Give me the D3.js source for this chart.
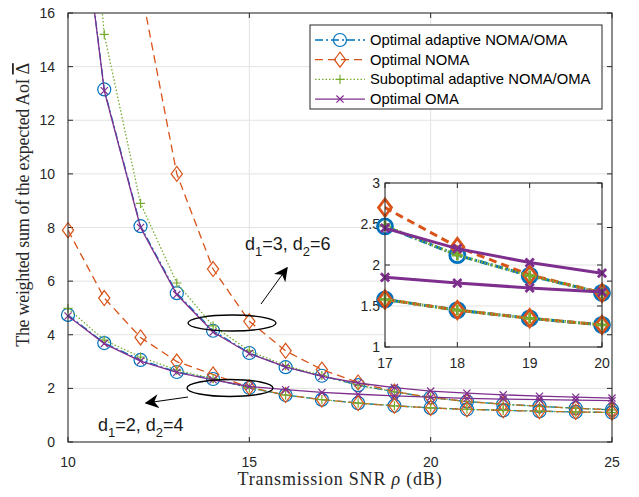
<!DOCTYPE html>
<html>
<head>
<meta charset="utf-8">
<script src="https://cdn.jsdelivr.net/npm/d3@7"></script>
<style>
  body { margin: 0; background: #fff; }
  svg { display: block; }
</style>
</head>
<body>
<div id="chart"></div>
<script>
// x values: transmission SNR (dB)
var snr = [10, 11, 12, 13, 14, 15, 16, 17, 18, 19, 20, 21, 22, 23, 24, 25];

// d1=3, d2=6 group
var adaptiveHigh = [24, 13.15, 8.05, 5.55, 4.15, 3.32, 2.79, 2.47, 2.12, 1.87, 1.66, 1.51, 1.41, 1.33, 1.26, 1.2];
var nomaHigh     = [55, 30, 17, 10.0, 6.45, 4.5, 3.4, 2.7, 2.22, 1.88, 1.66, 1.51, 1.41, 1.33, 1.26, 1.2];
var subHigh      = [30, 15.2, 8.9, 5.93, 4.33, 3.4, 2.85, 2.48, 2.12, 1.87, 1.66, 1.51, 1.41, 1.33, 1.26, 1.2];
var omaHigh      = [24, 13.1, 8.0, 5.5, 4.1, 3.3, 2.8, 2.45, 2.2, 2.03, 1.9, 1.82, 1.76, 1.71, 1.67, 1.64];

// d1=2, d2=4 group
var adaptiveLow = [4.74, 3.69, 3.06, 2.61, 2.35, 2.02, 1.75, 1.58, 1.45, 1.35, 1.27, 1.22, 1.18, 1.15, 1.12, 1.1];
var nomaLow     = [7.9, 5.37, 3.9, 3.0, 2.52, 2.04, 1.75, 1.58, 1.45, 1.35, 1.27, 1.22, 1.18, 1.15, 1.12, 1.1];
var subLow      = [4.98, 3.8, 3.17, 2.68, 2.36, 2.02, 1.75, 1.58, 1.45, 1.35, 1.27, 1.22, 1.18, 1.15, 1.12, 1.1];
var omaLow      = [4.7, 3.67, 3.02, 2.6, 2.32, 2.07, 1.95, 1.85, 1.78, 1.72, 1.67, 1.63, 1.6, 1.58, 1.56, 1.54];

var xTicks = [10, 15, 20, 25];
var yTicks = [0, 2, 4, 6, 8, 10, 12, 14, 16];
var insetXTicks = [17, 18, 19, 20];
var insetYTicks = [1, 1.5, 2, 2.5, 3];

var seriesInfo = [
    { name: 'Optimal adaptive NOMA/OMA', color: '#0072BD', dash: '8,3,2,3', marker: 'circle', high: adaptiveHigh, low: adaptiveLow },
    { name: 'Optimal NOMA', color: '#D95319', dash: '8,5', marker: 'diamond', high: nomaHigh, low: nomaLow },
    { name: 'Suboptimal adaptive NOMA/OMA', color: '#77AC30', dash: '1.5,2', marker: 'plus', high: subHigh, low: subLow },
    { name: 'Optimal OMA', color: '#7E2F8E', dash: null, marker: 'cross', high: omaHigh, low: omaLow }
];

var width = 639, height = 497;
var svg = d3.select('#chart').append('svg')
    .attr('width', width)
    .attr('height', height)
    .style('font-family', 'Liberation Sans, Arial, sans-serif');

// main axes box
var plotLeft = 68, plotRight = 612, plotTop = 13, plotBottom = 442;
var x = d3.scaleLinear().domain([10, 25]).range([plotLeft, plotRight]);
var y = d3.scaleLinear().domain([0, 16]).range([plotBottom, plotTop]);

var defs = svg.append('defs');
defs.append('clipPath').attr('id', 'mainClip')
    .append('rect').attr('x', plotLeft).attr('y', plotTop)
    .attr('width', plotRight - plotLeft).attr('height', plotBottom - plotTop);

// marker drawing helper
function drawMarker(g, type, cx, cy, size, color, sw) {
    if (type === 'circle') {
        g.append('circle').attr('cx', cx).attr('cy', cy).attr('r', size)
            .attr('fill', 'none').attr('stroke', color).attr('stroke-width', sw);
    } else if (type === 'diamond') {
        var s = size * 1.15;
        g.append('path').attr('d', 'M' + cx + ',' + (cy - s) + 'L' + (cx + s * 0.75) + ',' + cy + 'L' + cx + ',' + (cy + s) + 'L' + (cx - s * 0.75) + ',' + cy + 'Z')
            .attr('fill', 'none').attr('stroke', color).attr('stroke-width', sw);
    } else if (type === 'plus') {
        var p = size * 0.7;
        g.append('path').attr('d', 'M' + (cx - p) + ',' + cy + 'H' + (cx + p) + 'M' + cx + ',' + (cy - p) + 'V' + (cy + p))
            .attr('stroke', color).attr('stroke-width', sw).attr('fill', 'none');
    } else {
        var c = size * 0.55;
        g.append('path').attr('d', 'M' + (cx - c) + ',' + (cy - c) + 'L' + (cx + c) + ',' + (cy + c) + 'M' + (cx + c) + ',' + (cy - c) + 'L' + (cx - c) + ',' + (cy + c))
            .attr('stroke', color).attr('stroke-width', sw).attr('fill', 'none');
    }
}

// axes frame with grid, ticks inside
function drawAxes(g, xs, ys, xt, yt, fontSize, labelGapX, labelGapY) {
    var x0 = xs.range()[0], x1 = xs.range()[1], y0 = ys.range()[0], y1 = ys.range()[1];
    g.append('rect').attr('x', x0).attr('y', y1).attr('width', x1 - x0).attr('height', y0 - y1).attr('fill', '#fff');
    g.selectAll('.vgrid').data(xt).enter().append('line')
        .attr('x1', d => xs(d)).attr('x2', d => xs(d)).attr('y1', y1).attr('y2', y0)
        .attr('stroke', '#e3e3e3').attr('stroke-width', 1);
    g.selectAll('.hgrid').data(yt).enter().append('line')
        .attr('x1', x0).attr('x2', x1).attr('y1', d => ys(d)).attr('y2', d => ys(d))
        .attr('stroke', '#e3e3e3').attr('stroke-width', 1);
    var tl = 5;
    xt.forEach(function(d) {
        g.append('line').attr('x1', xs(d)).attr('x2', xs(d)).attr('y1', y0).attr('y2', y0 - tl).attr('stroke', '#262626');
        g.append('line').attr('x1', xs(d)).attr('x2', xs(d)).attr('y1', y1).attr('y2', y1 + tl).attr('stroke', '#262626');
    });
    yt.forEach(function(d) {
        g.append('line').attr('x1', x0).attr('x2', x0 + tl).attr('y1', ys(d)).attr('y2', ys(d)).attr('stroke', '#262626');
        g.append('line').attr('x1', x1).attr('x2', x1 - tl).attr('y1', ys(d)).attr('y2', ys(d)).attr('stroke', '#262626');
    });
    g.selectAll('.xlab').data(xt).enter().append('text')
        .attr('x', d => xs(d)).attr('y', y0 + labelGapX)
        .attr('text-anchor', 'middle').style('font-size', fontSize + 'px').attr('fill', '#262626')
        .text(d => d);
    g.selectAll('.ylab').data(yt).enter().append('text')
        .attr('x', x0 - labelGapY).attr('y', d => ys(d) + fontSize * 0.36)
        .attr('text-anchor', 'end').style('font-size', fontSize + 'px').attr('fill', '#262626')
        .text(d => d);
}

var mainG = svg.append('g');
drawAxes(mainG, x, y, xTicks, yTicks, 14, 25, 13);

// curves: lines clipped to the box, markers only for visible points
function drawSeries(g, xs, ys, clipId, lw, msize, msw) {
    var line = d3.line().x((d, i) => xs(snr[i])).y(d => ys(d));
    var xd = xs.domain(), yd = ys.domain();
    ['high', 'low'].forEach(function(grp) {
        seriesInfo.forEach(function(s) {
            var vals = s[grp];
            g.append('path')
                .attr('d', line(vals))
                .attr('clip-path', 'url(#' + clipId + ')')
                .attr('fill', 'none')
                .attr('stroke', s.color)
                .attr('stroke-width', lw)
                .attr('stroke-dasharray', s.dash);
            var mg = g.append('g');
            vals.forEach(function(v, i) {
                if (snr[i] < xd[0] || snr[i] > xd[1] || v > yd[1] || v < yd[0]) return;
                drawMarker(mg, s.marker, xs(snr[i]), ys(v), msize, s.color, msw);
            });
        });
    });
}
drawSeries(mainG, x, y, 'mainClip', 1.3, 6.5, 1.2);

// frame on top
mainG.append('rect').attr('x', plotLeft).attr('y', plotTop)
    .attr('width', plotRight - plotLeft).attr('height', plotBottom - plotTop)
    .attr('fill', 'none').attr('stroke', '#262626').attr('stroke-width', 1);

// axis labels
svg.append('text')
    .attr('x', 340).attr('y', 485)
    .attr('text-anchor', 'middle')
    .style('font-family', 'Liberation Serif, DejaVu Serif, serif')
    .style('font-size', '18px')
    .style('letter-spacing', '0.8px')
    .attr('fill', '#262626')
    .html('Transmission SNR <tspan font-style="italic">ρ</tspan> (dB)');

var yl = svg.append('text')
    .attr('transform', 'translate(29,205) rotate(-90)')
    .attr('text-anchor', 'middle')
    .style('font-family', 'Liberation Serif, DejaVu Serif, serif')
    .style('font-size', '18px')
    .style('letter-spacing', '-0.3px')
    .attr('fill', '#262626');
yl.append('tspan').text('The weighted sum of the expected AoI ');
yl.append('tspan').style('text-decoration', 'overline').text('\u0394');

// annotations: ellipses, arrows, labels
var ann = svg.append('g');
ann.append('ellipse').attr('cx', 232).attr('cy', 323).attr('rx', 44).attr('ry', 8)
    .attr('fill', 'none').attr('stroke', '#000').attr('stroke-width', 1.3);
ann.append('ellipse').attr('cx', 230).attr('cy', 388).attr('rx', 43).attr('ry', 8.5)
    .attr('fill', 'none').attr('stroke', '#000').attr('stroke-width', 1.3);

defs.append('marker').attr('id', 'arrowHead')
    .attr('viewBox', '0 0 10 10').attr('refX', 9).attr('refY', 5)
    .attr('markerWidth', 14).attr('markerHeight', 14).attr('markerUnits', 'userSpaceOnUse')
    .attr('orient', 'auto')
    .append('path').attr('d', 'M0,0 L10,5 L0,10 L3,5 Z').attr('fill', '#000');

ann.append('line').attr('x1', 261).attr('y1', 304).attr('x2', 287).attr('y2', 268)
    .attr('stroke', '#000').attr('stroke-width', 1).attr('marker-end', 'url(#arrowHead)');
ann.append('line').attr('x1', 188).attr('y1', 397).attr('x2', 146).attr('y2', 403)
    .attr('stroke', '#000').attr('stroke-width', 1).attr('marker-end', 'url(#arrowHead)');

function subLabel(xp, yp, a, b) {
    var t = ann.append('text').attr('x', xp).attr('y', yp).style('font-size', '18px').attr('fill', '#1a1a1a');
    t.append('tspan').text('d');
    t.append('tspan').attr('dy', 6).style('font-size', '13px').text('1');
    t.append('tspan').attr('dy', -6).text('=' + a + ', d');
    t.append('tspan').attr('dy', 6).style('font-size', '13px').text('2');
    t.append('tspan').attr('dy', -6).text('=' + b);
}
subLabel(245, 250, 3, 6);
subLabel(98, 431, 2, 4);

// inset zoom
var ix = d3.scaleLinear().domain([17, 20]).range([385, 602]);
var iy = d3.scaleLinear().domain([1, 3]).range([347, 183]);
defs.append('clipPath').attr('id', 'insetClip')
    .append('rect').attr('x', 385).attr('y', 183).attr('width', 217).attr('height', 164);
var insetG = svg.append('g');
drawAxes(insetG, ix, iy, insetXTicks, insetYTicks, 14, 21, 5);
drawSeries(insetG, ix, iy, 'insetClip', 3, 7.5, 2.8);
insetG.append('rect').attr('x', 385).attr('y', 183).attr('width', 217).attr('height', 164)
    .attr('fill', 'none').attr('stroke', '#262626').attr('stroke-width', 1);

// legend
var legendG = svg.append('g');
legendG.append('rect').attr('x', 310).attr('y', 25).attr('width', 292).attr('height', 84)
    .attr('fill', '#fff').attr('stroke', '#262626').attr('stroke-width', 1);
var legendItem = legendG.selectAll('.legend').data(seriesInfo).enter().append('g')
    .attr('transform', (d, i) => 'translate(0,' + (40 + i * 19.7) + ')');
legendItem.append('line').attr('x1', 315).attr('x2', 365).attr('y1', 0).attr('y2', 0)
    .attr('stroke', d => d.color).attr('stroke-width', 1.3).attr('stroke-dasharray', d => d.dash);
legendItem.each(function(d) { drawMarker(d3.select(this), d.marker, 340, 0, 6.5, d.color, 1.2); });
legendItem.append('text').attr('x', 370).attr('y', 5).style('font-size', '14.8px').attr('fill', '#000')
    .text(d => d.name);
</script>
</body>
</html>
